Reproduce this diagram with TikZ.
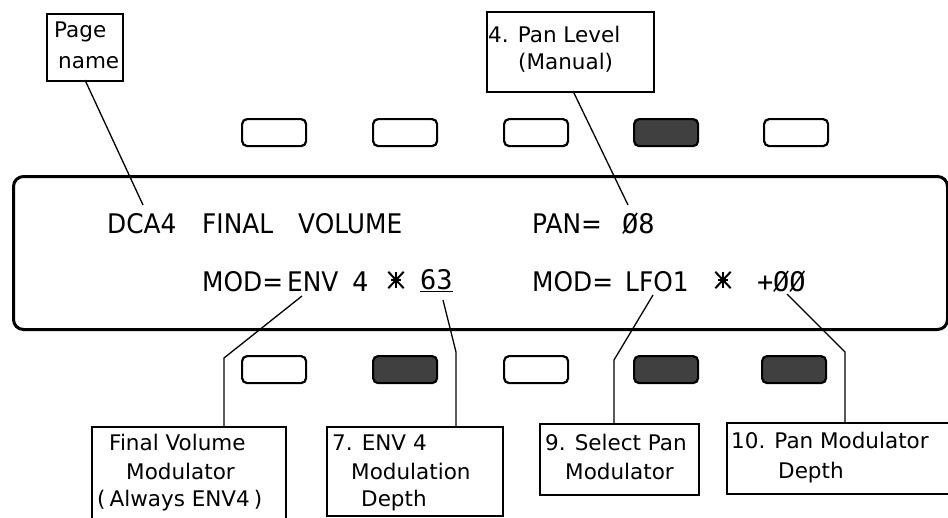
\documentclass[tikz,border=0pt]{standalone}
\usepackage{fontspec}
\setmainfont{DejaVu Sans}
\newfontfamily\lcdfont[FakeStretch=0.92]{DejaVu Sans}
\newfontfamily\lcdmono{DejaVu Sans Mono}
\begin{document}
\begin{tikzpicture}[x=1pt,y=-1pt,
  lbox/.style={draw, line width=1.6pt, inner sep=0pt, anchor=north west},
  lbl/.style={anchor=base west, inner sep=0pt, font=\fontsize{21.5}{26}\selectfont},
  lcd/.style={anchor=base west, inner sep=0pt, font=\lcdfont\fontsize{27}{30}\selectfont},
  lcdm/.style={anchor=base west, inner sep=0pt, font=\lcdmono\fontsize{27}{30}\selectfont},
  star/.style={inner sep=0pt, minimum width=15pt, minimum height=16pt},
  sline/.style={line width=2pt},
  btn/.style={draw, line width=2.2pt, rounded corners=5pt, inner sep=0pt, anchor=north west, minimum width=64pt, minimum height=27pt},
  dbtn/.style={btn, fill=black!75},
  lead/.style={line width=1.3pt, line join=round}]
\useasboundingbox (0,0) rectangle (948,517);
\clip (0,0) rectangle (948,517);

% display
\node[draw, line width=3pt, rounded corners=10pt, inner sep=0pt, anchor=north west,
      minimum width=934pt, minimum height=153pt] (display) at (12,175) {};

% top buttons
\node[btn]  (tb1) at (241,118) {};
\node[btn]  (tb2) at (372,118) {};
\node[btn]  (tb3) at (503,118) {};
\node[dbtn] (tb4) at (633,118) {};
\node[btn]  (tb5) at (763,118) {};
% bottom buttons
\node[btn]  (bb1) at (241,355) {};
\node[dbtn] (bb2) at (372,355) {};
\node[btn]  (bb3) at (503,355) {};
\node[dbtn] (bb4) at (633,355) {};
\node[dbtn] (bb5) at (761,355) {};

% display text
\node[lcd]  (dca)  at (107,233) {DCA4};
\node[lcd]  (fin)  at (202,233) {FINAL};
\node[lcd]  (vol)  at (298,233) {VOLUME};
\node[lcd]  (pan)  at (532,233) {PAN=};
\node[lcdm] (pv)   at (622,233) {Ø8};
\node[lcd]  (mod1) at (202,291) {MOD=};
\node[lcd]  (env)  at (287,291) {ENV};
\node[lcdm] (four) at (352,291) {4};
\node[star] (st1)  at (396,280) {};
\node[lcdm] (dep)  at (420,289) {\underline{63}};
\node[lcd]  (mod2) at (532,291) {MOD=};
\node[lcd]  (lfo)  at (625,291) {LFO1};
\node[star] (st2)  at (723,280) {};
\node[lcdm] (pls)  at (757,291) {+};
\node[lcdm] (pmd)  at (773,291) {ØØ};

% asterisks
\foreach \s in {st1,st2}{
  \draw[sline] (\s.north) -- (\s.south);
  \draw[sline] (\s.north west) -- (\s.south east);
  \draw[sline] (\s.north east) -- (\s.south west);
  \draw[sline] ([xshift=3pt]\s.west) -- ([xshift=-3pt]\s.east);
}

% label boxes
\node[lbox, minimum width=76pt,  minimum height=67pt] (pagebox) at (46,13) {};
\node[lbox, minimum width=167pt, minimum height=80pt] (panbox)  at (486,11) {};
\node[lbox, minimum width=194pt, minimum height=96pt] (fvbox)   at (91,426) {};
\node[lbox, minimum width=176pt, minimum height=89pt] (envbox)  at (326,426) {};
\node[lbox, minimum width=159pt, minimum height=71pt] (selbox)  at (539,423) {};
\node[lbox, minimum width=230pt, minimum height=71pt] (pmdbox)  at (726,422) {};

% label texts
\node[lbl] (t1a) at (54,37)  {Page};
\node[lbl] (t1b) at (58,68)  {name};
\node[lbl] (t2a) at (488,42) {4. Pan Level};
\node[lbl] (t2b) at (518,69) {(Manual)};
\node[lbl] (t3a) at (109,450) {Final Volume};
\node[lbl] (t3b) at (126,479) {Modulator};
\node[lbl] (t3c) at (97,506)  {(\kern4pt Always ENV4\kern4pt)};
\node[lbl] (t4a) at (332,450) {7. ENV 4};
\node[lbl] (t4b) at (351,479) {Modulation};
\node[lbl] (t4c) at (361,506) {Depth};
\node[lbl] (t5a) at (545,450) {9. Select Pan};
\node[lbl] (t5b) at (565,479) {Modulator};
\node[lbl] (t6a) at (731,448) {10. Pan Modulator};
\node[lbl] (t6b) at (778,478) {Depth};

% connector points
\coordinate (p1) at (85,80);   \coordinate (q1) at (143,205);
\coordinate (p2) at (573,91);  \coordinate (q2) at (628,205);
\coordinate (p3) at (302,296); \coordinate (k3) at (224,358); \coordinate (q3) at (224,426);
\coordinate (p4) at (443,300); \coordinate (k4) at (456,352); \coordinate (q4) at (456,426);
\coordinate (p5) at (653,295); \coordinate (k5) at (614,360); \coordinate (q5) at (614,423);
\coordinate (p6) at (787,294); \coordinate (k6) at (845,352); \coordinate (q6) at (845,422);

\draw[lead] (p1) -- (q1);
\draw[lead] (p2) -- (q2);
\draw[lead] (p3) -- (k3) -- (q3);
\draw[lead] (p4) -- (k4) -- (q4);
\draw[lead] (p5) -- (k5) -- (q5);
\draw[lead] (p6) -- (k6) -- (q6);
\end{tikzpicture}
\end{document}
